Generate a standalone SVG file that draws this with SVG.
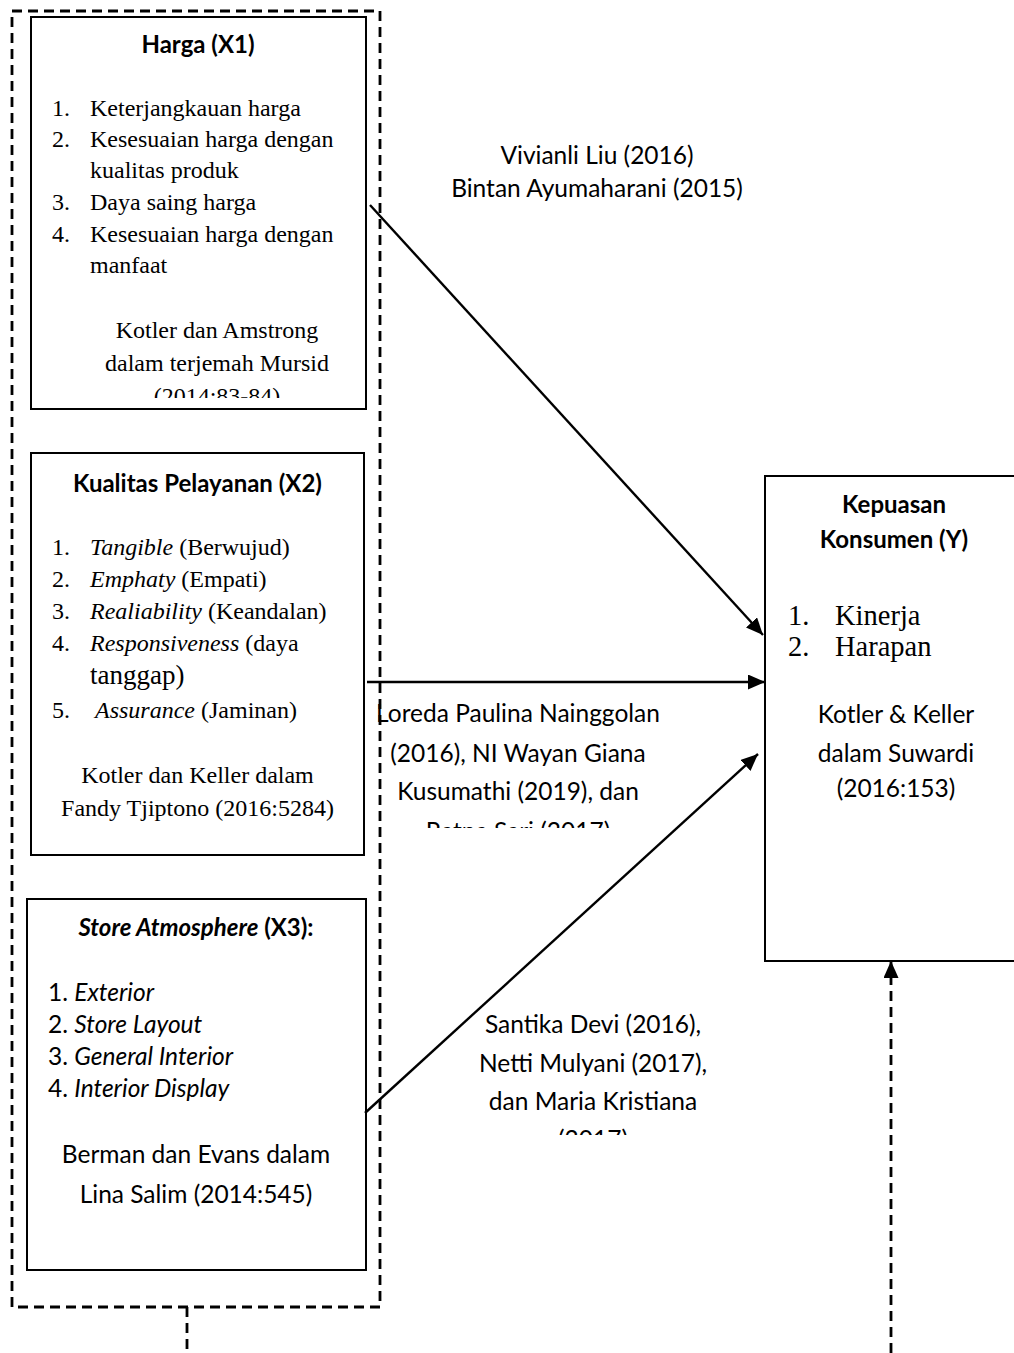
<svg xmlns="http://www.w3.org/2000/svg" width="1014" height="1353" viewBox="0 0 1014 1353">
<style>
.box{fill:#fff;stroke:#000;stroke-width:2}
.dash{fill:none;stroke:#000;stroke-width:2.8;stroke-dasharray:10 6}
.conn{fill:none;stroke:#000;stroke-width:2.4}
.sans{font-family:Lato,"Liberation Sans",sans-serif;font-size:24.5px;fill:#000}
.title{font-family:Lato,"Liberation Sans",sans-serif;font-size:24px;font-weight:bold;fill:#000}
.serif{font-family:"Liberation Serif","Times New Roman",serif;font-size:24px;fill:#000}
.big{font-size:28.5px}
.mid{text-anchor:middle}
.it{font-style:italic}
</style>
<defs>
<marker id="ah" markerWidth="17" markerHeight="15" refX="17" refY="7.5" orient="auto" markerUnits="userSpaceOnUse">
<path d="M0,0 L17,7.5 L0,15 z" fill="#000"/>
</marker>
<clipPath id="c1"><rect x="0" y="0" width="1014" height="398"/></clipPath>
<clipPath id="c2"><rect x="0" y="0" width="1014" height="828"/></clipPath>
<clipPath id="c3"><rect x="0" y="0" width="1014" height="1135"/></clipPath>
</defs>

<g id="group-x">
<rect class="dash" x="12" y="11" width="368" height="1296"/>
</g>

<g id="node-harga">
<rect class="box" x="31" y="17" width="335" height="392"/>
<text class="title mid" x="198" y="53">Harga (X1)</text>
<text class="serif" x="52" y="116">1.</text><text class="serif" x="90" y="116">Keterjangkauan harga</text>
<text class="serif" x="52" y="147">2.</text><text class="serif" x="90" y="147">Kesesuaian harga dengan</text>
<text class="serif" x="90" y="178">kualitas produk</text>
<text class="serif" x="52" y="210">3.</text><text class="serif" x="90" y="210">Daya saing harga</text>
<text class="serif" x="52" y="242">4.</text><text class="serif" x="90" y="242">Kesesuaian harga dengan</text>
<text class="serif" x="90" y="273">manfaat</text>
<g clip-path="url(#c1)">
<text class="serif mid" x="217" y="338">Kotler dan Amstrong</text>
<text class="serif mid" x="217" y="371">dalam terjemah Mursid</text>
<text class="serif mid" x="217" y="404">(2014:83-84)</text>
</g>
</g>

<g id="node-kualitas">
<rect class="box" x="31" y="453" width="333" height="402"/>
<text class="title mid" x="197.5" y="492">Kualitas Pelayanan (X2)</text>
<text class="serif" x="52" y="555">1.</text><text class="serif" x="90" y="555"><tspan class="it">Tangible</tspan> (Berwujud)</text>
<text class="serif" x="52" y="587">2.</text><text class="serif" x="90" y="587"><tspan class="it">Emphaty</tspan> (Empati)</text>
<text class="serif" x="52" y="619">3.</text><text class="serif" x="90" y="619"><tspan class="it">Realiability</tspan> (Keandalan)</text>
<text class="serif" x="52" y="651">4.</text><text class="serif" x="90" y="651"><tspan class="it">Responsiveness</tspan> (daya</text>
<text class="serif" x="90" y="684" style="font-size:27px">tanggap)</text>
<text class="serif" x="52" y="718">5.</text><text class="serif" x="95" y="718"><tspan class="it">Assurance</tspan> (Jaminan)</text>
<text class="serif mid" x="197.5" y="783">Kotler dan Keller dalam</text>
<text class="serif mid" x="197.5" y="816">Fandy Tjiptono (2016:5284)</text>
</g>

<g id="node-store">
<rect class="box" x="27" y="899" width="339" height="371"/>
<text class="title mid" x="196" y="936"><tspan class="it">Store Atmosphere</tspan> (X3):</text>
<text class="sans" x="48" y="1001">1. <tspan class="it">Exterior</tspan></text>
<text class="sans" x="48" y="1033">2. <tspan class="it">Store Layout</tspan></text>
<text class="sans" x="48" y="1065">3. <tspan class="it">General Interior</tspan></text>
<text class="sans" x="48" y="1097">4. <tspan class="it">Interior Display</tspan></text>
<text class="sans mid" x="196" y="1163">Berman dan Evans dalam</text>
<text class="sans mid" x="196" y="1203">Lina Salim (2014:545)</text>
</g>

<g id="node-kepuasan">
<rect class="box" x="765" y="476" width="300" height="485"/>
<text class="title mid" x="894" y="513">Kepuasan</text>
<text class="title mid" x="894" y="548">Konsumen (Y)</text>
<text class="serif big" x="788" y="625">1.</text><text class="serif big" x="835" y="625">Kinerja</text>
<text class="serif big" x="788" y="656">2.</text><text class="serif big" x="835" y="656">Harapan</text>
<text class="sans mid" x="896" y="723">Kotler &amp; Keller</text>
<text class="sans mid" x="896" y="762">dalam Suwardi</text>
<text class="sans mid" x="896" y="797">(2016:153)</text>
</g>

<g id="connectors">
<line class="conn" x1="370" y1="205" x2="763" y2="635" marker-end="url(#ah)"/>
<line class="conn" x1="367" y1="682" x2="765" y2="682" marker-end="url(#ah)"/>
<line class="conn" x1="365" y1="1113" x2="758" y2="754" marker-end="url(#ah)"/>
<line class="dash" x1="187" y1="1307" x2="187" y2="1353"/>
<line class="dash" x1="891" y1="1353" x2="891" y2="961" marker-end="url(#ah)"/>
</g>

<g id="labels">
<text class="sans mid" x="597" y="164">Vivianli Liu (2016)</text>
<text class="sans mid" x="597" y="197">Bintan Ayumaharani (2015)</text>
<g clip-path="url(#c2)">
<text class="sans mid" x="518" y="722">Loreda Paulina Nainggolan</text>
<text class="sans mid" x="518" y="762">(2016), NI Wayan Giana</text>
<text class="sans mid" x="518" y="800">Kusumathi (2019), dan</text>
<text class="sans mid" x="518" y="840">Ratna Sari (2017)</text>
</g>
<g clip-path="url(#c3)">
<text class="sans mid" x="593" y="1033">Santika Devi (2016),</text>
<text class="sans mid" x="593" y="1072">Netti Mulyani (2017),</text>
<text class="sans mid" x="593" y="1110">dan Maria Kristiana</text>
<text class="sans mid" x="593" y="1148">(2017)</text>
</g>
</g>
</svg>
